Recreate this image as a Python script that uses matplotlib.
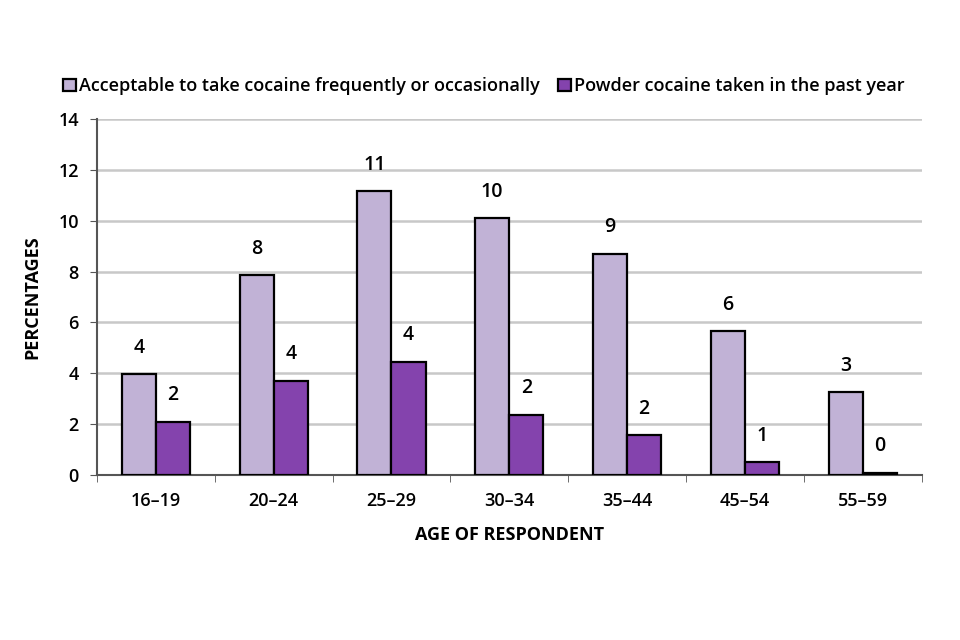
import numpy as np
import matplotlib
matplotlib.use('Agg')
from matplotlib import pyplot as plt
from matplotlib.ticker import MultipleLocator

ages = ['16\u201319', '20\u201324', '25\u201329', '30\u201334', '35\u201344', '45\u201354', '55\u201359']
acceptable = [3.95, 7.85, 11.15, 10.1, 8.7, 5.65, 3.25]
powder = [2.1, 3.7, 4.45, 2.35, 1.55, 0.5, 0.07]
acc_labels = ['4', '8', '11', '10', '9', '6', '3']
pow_labels = ['2', '4', '4', '2', '2', '1', '0']
series_names = ['Acceptable to take cocaine frequently or occasionally',
                'Powder cocaine taken in the past year']

plt.rcParams['font.family'] = ['Open Sans', 'DejaVu Sans']
plt.rcParams['font.weight'] = 600
FS = 13

fig = plt.figure(figsize=(9.6, 6.4), dpi=100)
ax = fig.add_axes([0.101, 0.258, 0.859, 0.556])

x = np.arange(len(ages))
w = 0.29
light = '#c1b2d6'
dark = '#8443ad'
b1 = ax.bar(x - w/2, acceptable, w, color=light, edgecolor='black', linewidth=1.6,
            label=series_names[0], zorder=3)
b2 = ax.bar(x + w/2, powder, w, color=dark, edgecolor='black', linewidth=1.6,
            label=series_names[1], zorder=3)

#value labels above each bar
for xi, v, t in zip(x, acceptable, acc_labels):
    ax.annotate(t, (xi - w/2, v), xytext=(0, 12), textcoords='offset points',
                ha='center', va='bottom', fontsize=14)
for xi, v, t in zip(x, powder, pow_labels):
    ax.annotate(t, (xi + w/2, v), xytext=(0, 12), textcoords='offset points',
                ha='center', va='bottom', fontsize=14)

ax.set_xlim(-0.5, len(ages) - 0.5)
ax.set_ylim(0, 14)
ax.yaxis.set_major_locator(MultipleLocator(2))
ax.set_xticks(x)
ax.set_xticklabels(ages, fontsize=FS)
ax.set_xticks(np.arange(len(ages) + 1) - 0.5, minor=True)
ax.tick_params(axis='x', which='major', length=0, pad=12)
ax.tick_params(axis='x', which='minor', length=5, color='#555555', direction='out')
ax.tick_params(axis='y', labelsize=FS, length=5, color='#555555', pad=8)
ax.grid(axis='y', color='#c8c8c8', linewidth=1.8, zorder=0)

for s in ['top', 'right']:
    ax.spines[s].set_visible(False)
for s in ['left', 'bottom']:
    ax.spines[s].set_color('#555555')
    ax.spines[s].set_linewidth(1.5)

ax.set_xlabel('AGE OF RESPONDENT', fontsize=FS, fontweight='bold', labelpad=12)
ax.set_ylabel('PERCENTAGES', fontsize=FS, fontweight='bold', labelpad=12)

fig.legend(handles=[b1, b2], loc='center left', bbox_to_anchor=(0.058, 0.865),
           ncol=2, frameon=False, fontsize=FS, handlelength=0.7, handleheight=0.7,
           handletextpad=0.2, columnspacing=1.0, borderaxespad=0)

fig.savefig('out.png', dpi=100)
